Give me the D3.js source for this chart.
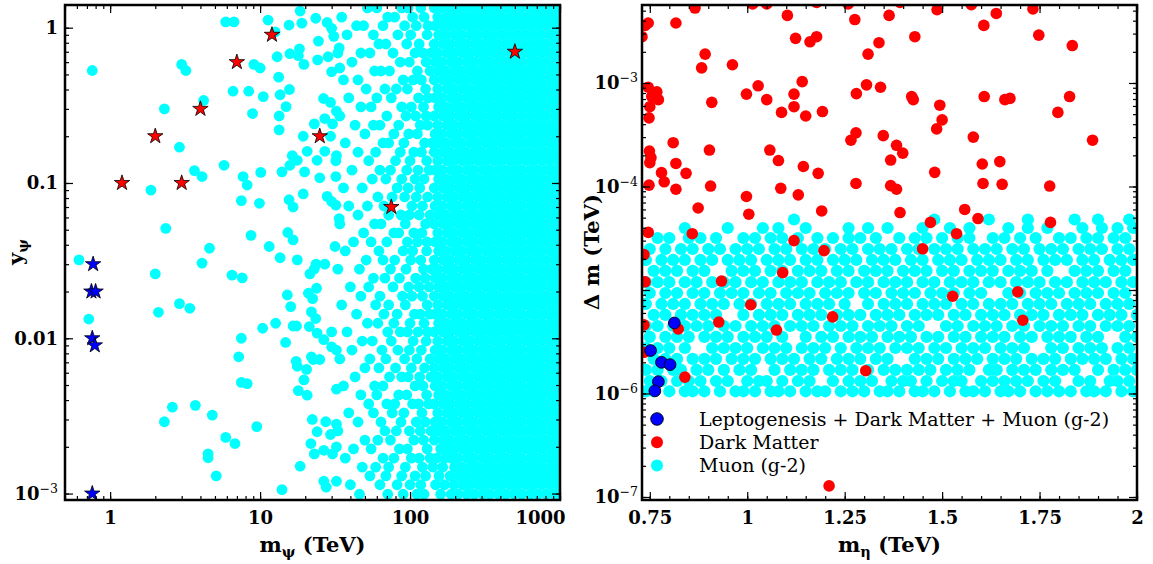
<!DOCTYPE html>
<html>
<head>
<meta charset="utf-8">
<script src="https://cdn.jsdelivr.net/npm/d3@7"></script>
<style>
  body { margin: 0; background: #fff; }
  svg text { font-family: "DejaVu Serif", serif; }
</style>
</head>
<body>
<svg id="chart" width="1153" height="564"></svg>
<script>
// ---------------- data ----------------

// left panel: m_psi (TeV) vs y_psi, scattered Muon (g-2) points
const leftMuonSparse = [
  [0.76,0.53],[5.9,1.09],[6.7,1.09],[11.3,1.12],[12.6,0.94],[18.5,1.28],[15.6,1.04],[19,1.07],[23.5,1.15],[28,1.08],[30,0.99],[31,0.88],
  [3.0,0.58],[3.2,0.53],[9.1,0.58],[10,0.55],[13,0.65],[15.8,0.68],[18.3,0.73],[18,0.66],[19.6,0.58],
  [24.5,0.82],[24.2,0.62],[28.4,0.65],[33.7,0.74],[30,0.52],[34,0.55],[13.3,0.48],
  [6.6,0.39],[8.4,0.39],[10.5,0.36],[13.6,0.37],[15.7,0.40],[14.9,0.31],[13.4,0.27],[13.4,0.22],[8.9,0.28],[4.2,0.34],[2.3,0.30],
  [26.5,0.35],[29.5,0.33],[32.3,0.29],[27,0.26],[30.4,0.24],[23,0.24],[19.4,0.2],[29.5,0.2],[27,0.16],[24,0.14],[32.3,0.15],
  [20.6,0.16],[16.4,0.15],[17.7,0.14],[15.8,0.13],[2.9,0.17],[5.75,0.13],[3.65,0.12],[4.1,0.11],[1.87,0.09],[7.7,0.11],[8.2,0.097],[10.1,0.117],
  [14,0.118],[19.8,0.118],[25,0.108],[32,0.11],[7.5,0.077],[9.9,0.074],[15.6,0.078],[16.6,0.07],[19.4,0.085],[28,0.082],[30,0.076],[32,0.072],[33.7,0.059],
  [2.35,0.051],[8.7,0.046],[15.3,0.048],[16.6,0.043],[11.5,0.039],[4.6,0.038],[0.62,0.032],[13.6,0.033],[17.7,0.032],[31.6,0.039],
  [0.72,0.0133],[2.0,0.026],[2.1,0.0147],[2.9,0.0167],[3.4,0.0156],[4.1,0.0305],[6.5,0.0255],[7.6,0.0245],[21.5,0.026],[23.6,0.03],[27,0.03],[23,0.028],
  [15.2,0.019],[16,0.016],[21,0.0195],[22.4,0.018],[23.8,0.021],[22,0.0148],[23.5,0.0134],[21.3,0.0119],[24,0.0108],[26.6,0.0098],[30,0.011],[30,0.0088],[32.3,0.0084],
  [10.4,0.0116],[12.7,0.0125],[16.6,0.012],[17.5,0.012],[7.5,0.01],[7.2,0.0076],[14.8,0.0094],[17.4,0.0071],[17.7,0.0066],[20.4,0.0063],[19.6,0.0054],[22,0.0076],[22.6,0.0073],[25,0.0073],
  [7.5,0.0052],[8.2,0.0051],[18,0.0046],[20.6,0.0043],[32.3,0.0047],[2.6,0.0036],[3.7,0.0037],[4.8,0.0032],[2.3,0.0029],[9.5,0.0027],[5.9,0.0023],[6.8,0.0021],[4.5,0.0018],[4.5,0.0017],[5.1,0.0013],[18.5,0.0015],
  [22.3,0.003],[27.4,0.0029],[24,0.0025],[29.5,0.0024],[32.3,0.0028],[21.8,0.0021],[23,0.0018],[26.6,0.0019],[30.4,0.0018],[32.3,0.002],[14,0.00106],[26.6,0.0012],[27.6,0.0011],[32.3,0.0012]
];

// left panel: the crowded part, one y value per row and the m_psi values along it
const leftMuonRowY = [1.34,1.17,1.03,0.90,0.785,0.687,0.601,0.526,0.461,0.403,0.353,0.309,0.270,0.236,0.207,0.181,0.158,0.139,0.121,0.106,
  0.093,0.0813,0.0711,0.0622,0.0545,0.0477,0.0417,0.0365,0.0319,0.0279,0.0244,0.0214,0.0187,0.0164,0.0143,0.0125,0.0110,0.0096,0.0084,0.00736,
  0.00644,0.00564,0.00493,0.00432,0.00378,0.00331,0.00289,0.00253,0.00221,0.00194,0.00169,0.00148,0.00130,0.00114,0.00099];
const leftMuonRowX = [
  "52 60 88 97 118 145 164 185 209 237 268 302 341 385 436 492 556 631 712 805 910 990",
  "35 71 79 104 124 153 174 196 222 251 284 321 362 409 464 523 592 668 756 858 970",
  "44 49 66 92 110 132 147 166 186 211 240 270 305 345 388 440 495 560 635 716 810 915 995",
  "38 57 83 101 130 155 174 198 222 253 284 323 362 411 464 525 592 670 756 860 972",
  "62 69 95 115 145 166 185 211 237 270 302 343 385 438 492 558 631 714 805 912 995",
  "33 47 54 77 108 122 138 153 176 196 224 251 286 321 364 409 466 523 594 668 758 858 970",
  "41 86 99 128 147 164 188 209 239 268 305 341 388 436 495 556 635 712 808 910 995",
  "58 64 73 112 136 155 174 198 222 253 284 323 362 411 464 525 592 670 756 860 970",
  "36 45 90 105 119 145 166 185 211 237 270 302 343 385 438 492 558 631 714 805 912 995",
  "51 68 81 96 127 153 176 196 224 251 286 321 364 409 466 523 594 668 758 858 970",
  "39 60 75 114 132 147 164 188 209 239 268 305 341 388 436 495 556 635 712 808 910 995",
  "47 55 88 102 123 155 174 198 222 253 284 323 362 411 464 525 592 670 756 860 970",
  "34 70 94 109 128 145 166 185 211 237 270 302 343 385 438 492 558 631 714 805 912 995",
  "43 57 63 84 117 131 153 176 196 224 251 286 321 364 409 466 523 594 668 758 858 970",
  "50 78 98 112 147 164 188 209 239 268 305 341 388 436 495 556 635 712 808 910 995",
  "37 66 72 91 125 140 155 174 198 222 253 284 323 362 411 464 525 592 670 756 860 970",
  "45 59 86 106 119 145 166 185 211 237 270 302 343 385 438 492 558 631 714 805 912 995",
  "32 53 80 100 129 153 176 196 224 251 286 321 364 409 466 523 594 668 758 858 970",
  "41 63 74 95 113 134 147 164 188 209 239 268 305 341 388 436 495 556 635 712 808 910 995",
  "56 69 88 108 124 155 174 198 222 253 284 323 362 411 464 525 592 670 756 860 970",
  "36 48 82 97 116 145 166 185 211 237 270 302 343 385 438 492 558 631 714 805 912 995",
  "61 76 92 110 131 153 176 196 224 251 286 321 364 409 466 523 594 668 758 858 970",
  "39 52 67 103 121 147 164 188 209 239 268 305 341 388 436 495 556 635 712 808 910 995",
  "45 72 87 99 115 136 155 174 198 222 253 284 323 362 411 464 525 592 670 756 860 970",
  "34 58 64 93 127 145 166 185 211 237 270 302 343 385 438 492 558 631 714 805 912 995",
  "49 78 84 106 120 153 176 196 224 251 286 321 364 409 466 523 594 668 758 858 970",
  "42 55 70 96 112 130 147 164 188 209 239 268 305 341 388 436 495 556 635 712 808 910 995",
  "37 62 90 104 129 155 174 198 222 253 284 323 362 411 464 525 592 670 756 860 970",
  "51 66 79 101 118 145 166 185 211 237 270 302 343 385 438 492 558 631 714 805 912 995",
  "33 46 74 94 123 140 153 176 196 224 251 286 321 364 409 466 523 594 668 758 858 970",
  "57 68 85 109 126 147 164 188 209 239 268 305 341 388 436 495 556 635 712 808 910 995",
  "40 53 77 98 115 134 155 174 198 222 253 284 323 362 411 464 525 592 670 756 860 970",
  "47 63 89 103 121 145 166 185 211 237 270 302 343 385 438 492 558 631 714 805 912 995",
  "35 59 72 93 130 153 176 196 224 251 286 321 364 409 466 523 594 668 758 858 970",
  "44 67 82 107 117 135 147 164 188 209 239 268 305 341 388 436 495 556 635 712 808 910 995",
  "52 61 78 100 124 155 174 198 222 253 284 323 362 411 464 525 592 670 756 860 970",
  "38 71 86 96 113 131 145 166 185 211 237 270 302 343 385 438 492 558 631 714 805 912 995",
  "48 56 75 105 128 153 176 196 224 251 286 321 364 409 466 523 594 668 758 858 970",
  "41 65 83 99 119 147 164 188 209 239 268 305 341 388 436 495 556 635 712 808 910 995",
  "34 54 69 92 111 136 155 174 198 222 253 284 323 362 411 464 525 592 670 756 860 970",
  "50 62 80 102 125 145 166 185 211 237 270 302 343 385 438 492 558 631 714 805 912 995",
  "43 73 88 97 116 138 153 176 196 224 251 286 321 364 409 466 523 594 668 758 858 970",
  "36 58 66 108 122 147 164 188 209 239 268 305 341 388 436 495 556 635 712 808 910 995",
  "47 60 84 95 129 155 174 198 222 253 284 323 362 411 464 525 592 670 756 860 970",
  "53 70 79 104 114 133 145 166 185 211 237 270 302 343 385 438 492 558 631 714 805 912 995",
  "39 57 76 91 120 153 176 196 224 251 286 321 364 409 466 523 594 668 758 858 970",
  "45 64 87 110 126 147 164 188 209 239 268 305 341 388 436 495 556 635 712 808 910 995",
  "33 68 81 99 117 138 155 174 198 222 253 284 323 362 411 464 525 592 670 756 860 970",
  "50 61 74 106 123 145 166 185 211 237 270 302 343 385 438 492 558 631 714 805 912 995",
  "42 55 85 96 130 160 176 196 224 251 286 321 364 409 466 523 594 668 758 858 970",
  "37 66 78 102 115 136 150 170 188 209 239 268 305 341 388 436 495 556 635 712 808 910 995",
  "48 59 72 93 121 142 165 198 222 253 284 323 362 411 464 525 592 670 756 860 970",
  "54 69 88 108 127 156 185 211 237 270 302 343 385 438 492 558 631 714 805 912 995",
  "40 63 82 100 118 148 170 196 224 251 286 321 364 409 466 523 594 668 758 858 970",
  "46 71 90 111 124 160 188 209 239 268 305 341 388 436 495 556 635 712 808 910 995"
];

// left panel: benchmark stars (m_psi, y_psi)
const leftStarsRed = [[1.2,0.1],[2.0,0.2],[3.0,0.1],[4.0,0.3],[7.0,0.6],[12,0.9],[25,0.2],[75,0.07],[500,0.7]];
const leftStarsBlue = [[0.77,0.03],[0.75,0.02],[0.8,0.02],[0.76,0.01],[0.79,0.009],[0.76,0.001]];

// right panel: m_eta (TeV) vs Delta m (TeV), Muon (g-2) band, row by row
const rightMuonRowY = [1.05e-6,1.32e-6,1.69e-6,2.16e-6,2.75e-6,3.52e-6,4.49e-6,5.74e-6,7.33e-6,9.35e-6,1.19e-5,1.53e-5,1.95e-5,2.49e-5,3.18e-5,3.97e-5,4.8e-5];
const rightMuonRowX = [
  "0.74 0.76 0.80 0.84 0.86 0.89 0.93 0.97 0.99 1.02 1.06 1.08 1.11 1.15 1.18 1.20 1.24 1.27 1.30 1.34 1.36 1.39 1.43 1.45 1.48 1.52 1.56 1.58 1.61 1.65 1.67 1.70 1.74 1.77 1.80 1.83 1.87 1.89 1.92 1.96 1.99",
  "0.75 0.78 0.82 0.85 0.88 0.92 0.95 1.00 1.03 1.05 1.09 1.13 1.16 1.22 1.26 1.29 1.32 1.37 1.40 1.42 1.46 1.50 1.53 1.55 1.60 1.63 1.66 1.69 1.72 1.76 1.79 1.85 1.88 1.93 1.95 1.98",
  "0.74 0.77 0.81 0.83 0.87 0.90 0.94 0.98 1.01 1.07 1.11 1.14 1.17 1.21 1.24 1.27 1.31 1.35 1.38 1.41 1.44 1.47 1.51 1.54 1.57 1.62 1.64 1.68 1.71 1.74 1.78 1.81 1.84 1.90 1.94 1.97 2.00",
  "0.76 0.79 0.82 0.86 0.89 0.92 0.96 0.99 1.02 1.06 1.09 1.12 1.16 1.19 1.23 1.26 1.29 1.33 1.36 1.43 1.46 1.49 1.53 1.56 1.59 1.63 1.66 1.69 1.73 1.76 1.79 1.83 1.86 1.89 1.92 1.96 1.99",
  "0.74 0.77 0.80 0.84 0.91 0.94 0.97 1.00 1.04 1.07 1.10 1.14 1.17 1.20 1.24 1.28 1.31 1.34 1.38 1.41 1.44 1.48 1.51 1.55 1.58 1.61 1.65 1.68 1.71 1.78 1.81 1.85 1.88 1.91 1.95 1.98",
  "0.75 0.79 0.82 0.85 0.89 0.92 0.95 0.99 1.02 1.05 1.09 1.15 1.19 1.22 1.26 1.29 1.32 1.36 1.39 1.42 1.46 1.49 1.53 1.56 1.60 1.63 1.66 1.70 1.73 1.77 1.80 1.83 1.87 1.90 1.97 2.00",
  "0.74 0.77 0.81 0.84 0.87 0.90 0.94 0.97 1.01 1.04 1.07 1.11 1.14 1.17 1.21 1.24 1.27 1.31 1.34 1.37 1.41 1.44 1.51 1.54 1.58 1.61 1.64 1.68 1.71 1.75 1.78 1.81 1.85 1.88 1.92 1.95 1.98",
  "0.76 0.79 0.83 0.86 0.89 0.92 0.99 1.03 1.06 1.09 1.13 1.16 1.19 1.23 1.26 1.29 1.33 1.36 1.39 1.43 1.46 1.49 1.53 1.56 1.60 1.63 1.66 1.70 1.73 1.76 1.80 1.83 1.86 1.90 1.93 1.96 2.00",
  "0.74 0.78 0.81 0.84 0.88 0.91 0.94 0.98 1.01 1.05 1.08 1.11 1.15 1.18 1.21 1.25 1.31 1.35 1.38 1.41 1.45 1.48 1.51 1.55 1.58 1.62 1.65 1.68 1.72 1.75 1.78 1.82 1.85 1.88 1.92 1.95 1.98",
  "0.75 0.79 0.82 0.86 0.89 0.93 0.96 0.99 1.03 1.06 1.10 1.13 1.16 1.20 1.23 1.26 1.30 1.33 1.37 1.40 1.43 1.47 1.50 1.53 1.57 1.60 1.67 1.70 1.74 1.77 1.80 1.84 1.87 1.90 1.94 1.97",
  "0.74 0.77 0.80 0.84 0.87 0.91 0.94 0.97 1.01 1.04 1.08 1.11 1.14 1.18 1.21 1.24 1.28 1.31 1.35 1.38 1.41 1.45 1.48 1.52 1.55 1.58 1.62 1.65 1.69 1.72 1.75 1.79 1.82 1.86 1.89 1.92 1.96 1.99",
  "0.76 0.79 0.82 0.86 0.89 0.96 0.99 1.02 1.06 1.09 1.13 1.16 1.19 1.23 1.26 1.30 1.33 1.36 1.40 1.43 1.46 1.50 1.53 1.57 1.60 1.63 1.67 1.70 1.73 1.77 1.84 1.87 1.90 1.94 1.97",
  "0.74 0.78 0.81 0.84 0.88 0.91 0.95 0.98 1.01 1.05 1.08 1.11 1.15 1.18 1.22 1.25 1.28 1.32 1.35 1.38 1.42 1.45 1.49 1.52 1.55 1.59 1.62 1.65 1.69 1.72 1.76 1.79 1.82 1.86 1.89 1.93 1.96 1.99",
  "0.75 0.79 0.83 0.86 0.90 0.93 0.97 1.00 1.03 1.07 1.10 1.14 1.17 1.20 1.24 1.27 1.31 1.34 1.37 1.41 1.44 1.48 1.51 1.54 1.58 1.61 1.64 1.68 1.71 1.75 1.78 1.81 1.85 1.88 1.91 1.95 1.98",
  "0.77 0.80 0.85 0.88 0.92 0.99 1.02 1.06 1.09 1.13 1.18 1.22 1.26 1.29 1.33 1.39 1.43 1.46 1.50 1.54 1.57 1.63 1.66 1.70 1.74 1.80 1.83 1.87 1.90 1.94 1.97",
  "0.84 0.95 1.04 1.08 1.15 1.26 1.31 1.36 1.45 1.52 1.57 1.67 1.72 1.77 1.86 1.91 1.95 1.99",
  "1.12 1.48 1.62 1.72 1.84 1.90 1.98"
];

// right panel: Dark Matter points (m_eta, Delta m)
const rightDarkMatter = [
  [0.866,5.3e-3],[0.746,3.8e-3],[0.738,3.6e-3],[0.817,3.8e-3],[1.103,4.5e-3],[1.014,5.8e-3],[1.05,5.8e-3],[1.178,6.0e-3],[1.259,5.8e-3],[1.276,4.1e-3],
  [1.124,2.7e-3],[1.161,2.5e-3],[1.178,2.8e-3],[0.892,1.9e-3],[0.883,1.4e-3],[0.962,1.5e-3],[1.31,1.9e-3],[0.73,2.8e-3],
  [0.746,9.1e-4],[0.768,8.2e-4],[0.755,7.4e-4],[0.772,6.9e-4],[0.75,5.9e-4],[0.748,4.6e-4],[0.998,7.8e-4],[1.028,9.4e-4],[1.05,6.9e-4],[0.909,6.5e-4],
  [1.088,5.2e-4],[1.12,7.8e-4],[1.12,5.9e-4],[1.141,1.03e-3],[1.15,4.8e-4],[1.193,5.3e-4],[1.28,7.9e-4],[1.306,9.6e-4],
  [1.279,3.3e-4],[1.266,2.8e-4],[0.81,2.65e-4],[0.903,2.25e-4],[1.058,2.25e-4],[1.08,1.78e-4],[0.749,2.2e-4],[0.753,1.9e-4],[0.75,1.7e-4],[0.817,1.67e-4],
  [0.78,1.36e-4],[0.787,1.11e-4],[0.843,1.34e-4],[1.144,1.56e-4],[1.182,1.34e-4],[0.748,1.03e-4],[0.817,9.4e-5],[0.906,1.01e-4],[1.086,9.6e-5],[1.131,8.3e-5],
  [1.279,1.07e-4],[0.998,8e-5],[1.004,5.4e-5],[0.874,6.2e-5],[1.191,5.8e-5],[0.746,3.6e-5],[0.859,3.5e-5],[1.12,3e-5],[1.197,2.4e-5],[0.735,2.2e-5],
  [1.091,1.47e-5],[0.934,1.22e-5],[0.738,1.2e-5],[1.009,7.2e-6],[0.927,4.9e-6],[0.735,4.6e-6],[0.823,4.2e-6],[1.075,4.1e-6],[1.219,5.5e-6],[1.304,1.66e-6],
  [0.84,1.44e-6],[0.735,2.5e-6],[1.21,1.28e-7],
  [1.364,4.5e-3],[1.487,5.1e-3],[1.575,5.7e-3],[1.639,4.7e-3],[1.733,5.2e-3],[1.392,6e-3],[1.607,3.6e-3],[1.43,2.8e-3],[1.748,2.9e-3],[1.834,2.3e-3],[1.338,2.45e-3],
  [1.342,9.1e-4],[1.422,7.4e-4],[1.426,6.9e-4],[1.494,6.1e-4],[1.608,7.4e-4],[1.661,6.9e-4],[1.674,7.1e-4],[1.827,7.4e-4],[1.797,5.2e-4],[1.5,4.4e-4],
  [1.486,3.6e-4],[1.349,3.1e-4],[1.58,3.0e-4],[1.886,2.8e-4],[1.383,2.5e-4],[1.399,2.1e-4],[1.368,1.8e-4],[1.603,1.65e-4],[1.648,1.74e-4],[1.481,1.37e-4],
  [1.368,1.02e-4],[1.383,9.4e-5],[1.605,1.07e-4],[1.654,1.05e-4],[1.776,1.01e-4],[1.392,5.6e-5],[1.558,6.0e-5],[1.592,4.9e-5],[1.47,4.5e-5],[1.778,4.5e-5],
  [1.537,3.5e-5],[1.45,2.5e-5],[1.527,8.7e-6],[1.694,9.6e-6],[1.707,5.1e-6]
];

// right panel: points passing all three (m_eta, Delta m)
const rightAllThree = [[0.813,4.8e-6],[0.752,2.6e-6],[0.78,2.0e-6],[0.802,1.9e-6],[0.772,1.3e-6],[0.763,1.06e-6]];

// ticks and labels
const leftXTicks = [1, 10, 100, 1000];
const leftXLabels = ["1", "10", "100", "1000"];
const leftYTicks = [0.001, 0.01, 0.1, 1];
const leftYLabels = ["10^\u22123", "0.01", "0.1", "1"];
const rightXTicks = [0.75, 1, 1.25, 1.5, 1.75, 2];
const rightXLabels = ["0.75", "1", "1.25", "1.5", "1.75", "2"];
const rightYTicks = [1e-7, 1e-6, 1e-5, 1e-4, 1e-3];
const rightYLabels = ["10^\u22127", "10^\u22126", "", "10^\u22124", "10^\u22123"];
const legendLabels = ["Leptogenesis + Dark Matter + Muon (g-2)", "Dark Matter", "Muon (g-2)"];

// ---------------- drawing ----------------
const svg = d3.select("#chart");

const xL = d3.scaleLog().domain([0.5, 1000]).range([65, 560]);
const yL = d3.scaleLog().domain([9.09e-4, 1.4]).range([500, 5]);
const xR = d3.scaleLinear().domain([0.73, 2]).range([642, 1137]);
const yR = d3.scaleLog().domain([9.35e-8, 5.67e-3]).range([500, 5]);

function rowsToPoints(ys, xs) {
  const pts = [];
  ys.forEach((y, i) => xs[i].trim().split(/\s+/).forEach(x => pts.push([+x, y])));
  return pts;
}

const defs = svg.append("defs");
defs.append("clipPath").attr("id", "clipL").append("rect")
  .attr("x", 65).attr("y", 5).attr("width", 495).attr("height", 495);
defs.append("clipPath").attr("id", "clipR").append("rect")
  .attr("x", 642).attr("y", 5).attr("width", 495).attr("height", 495);

// left panel points
const gL = svg.append("g").attr("clip-path", "url(#clipL)");
gL.selectAll("circle.muon")
  .data(leftMuonSparse.concat(rowsToPoints(leftMuonRowY, leftMuonRowX)))
  .join("circle")
  .attr("class", "muon")
  .attr("cx", d => xL(d[0]))
  .attr("cy", d => yL(d[1]))
  .attr("r", 5.4)
  .attr("fill", "#00ffff");

const star = d3.symbol().type(d3.symbolStar).size(74);
gL.selectAll("path.red")
  .data(leftStarsRed)
  .join("path")
  .attr("class", "red")
  .attr("transform", d => `translate(${xL(d[0])},${yL(d[1])})`)
  .attr("d", star)
  .attr("fill", "#ff0000")
  .attr("stroke", "#000")
  .attr("stroke-width", 0.8);
gL.selectAll("path.blue")
  .data(leftStarsBlue)
  .join("path")
  .attr("class", "blue")
  .attr("transform", d => `translate(${xL(d[0])},${yL(d[1])})`)
  .attr("d", star)
  .attr("fill", "#0000ff")
  .attr("stroke", "#000")
  .attr("stroke-width", 0.8);

// right panel points: cyan first, then red, then blue on top
const gR = svg.append("g").attr("clip-path", "url(#clipR)");
gR.selectAll("circle.muon")
  .data(rowsToPoints(rightMuonRowY, rightMuonRowX))
  .join("circle")
  .attr("class", "muon")
  .attr("cx", d => xR(d[0]))
  .attr("cy", d => yR(d[1]))
  .attr("r", 6.1)
  .attr("fill", "#00ffff");
gR.selectAll("circle.dm")
  .data(rightDarkMatter)
  .join("circle")
  .attr("class", "dm")
  .attr("cx", d => xR(d[0]))
  .attr("cy", d => yR(d[1]))
  .attr("r", 5.8)
  .attr("fill", "#ff0000");
gR.selectAll("circle.all")
  .data(rightAllThree)
  .join("circle")
  .attr("class", "all")
  .attr("cx", d => xR(d[0]))
  .attr("cy", d => yR(d[1]))
  .attr("r", 5.9)
  .attr("fill", "#0000ff")
  .attr("stroke", "#000")
  .attr("stroke-width", 0.9);

// axes: ticks point inwards on all four sides, labels only bottom / left
function putLabel(sel, txt) {
  sel.text(null);
  const parts = txt.split("^");
  sel.append("tspan").text(parts[0]);
  if (parts.length > 1) {
    sel.append("tspan")
      .attr("dy", -7)
      .attr("font-size", 12.5)
      .attr("font-weight", "normal")
      .text(parts[1]);
  }
}

function drawAxes(x, y, box, o) {
  const [x0, y0, x1, y1] = box;
  const g = svg.append("g");
  const add = (axis, tx, ty) => g.append("g")
    .attr("transform", `translate(${tx},${ty})`)
    .call(axis)
    .call(a => a.select(".domain").remove())
    .call(a => a.selectAll(".tick line").attr("stroke-width", 1.2))
    .attr("font-family", "DejaVu Serif")
    .attr("font-size", 18)
    .attr("font-weight", "bold");

  add(d3.axisBottom(x).tickValues(o.xMinor).tickSize(-4).tickFormat(""), 0, y1);
  add(d3.axisTop(x).tickValues(o.xMinor).tickSize(-4).tickFormat(""), 0, y0);
  add(d3.axisLeft(y).tickValues(o.yMinor).tickSize(-4).tickFormat(""), x0, 0);
  add(d3.axisRight(y).tickValues(o.yMinor).tickSize(-4).tickFormat(""), x1, 0);

  const bottom = add(d3.axisBottom(x).tickValues(o.xTicks).tickSize(-8).tickPadding(11)
    .tickFormat(d => o.xLabels[o.xTicks.indexOf(d)]), 0, y1);
  add(d3.axisTop(x).tickValues(o.xTicks).tickSize(-8).tickFormat(""), 0, y0);
  const left = add(d3.axisLeft(y).tickValues(o.yTicks).tickSize(-8).tickPadding(o.yPad)
    .tickFormat(d => o.yLabels[o.yTicks.indexOf(d)]), x0, 0);
  add(d3.axisRight(y).tickValues(o.yTicks).tickSize(-8).tickFormat(""), x1, 0);

  left.selectAll(".tick text").each(function (d) {
    putLabel(d3.select(this), o.yLabels[o.yTicks.indexOf(d)]);
  });

  g.append("rect")
    .attr("x", x0).attr("y", y0)
    .attr("width", x1 - x0).attr("height", y1 - y0)
    .attr("fill", "none")
    .attr("stroke", "#000")
    .attr("stroke-width", 2.5);
  return bottom;
}

const bottomL = drawAxes(xL, yL, [65, 5, 560, 500], {
  xTicks: leftXTicks, xLabels: leftXLabels, xMinor: xL.ticks(),
  yTicks: leftYTicks, yLabels: leftYLabels, yMinor: yL.ticks(), yPad: 7
});
// the 1000 label sits left of its tick in the original
bottomL.selectAll(".tick text").filter(d => d === 1000).attr("dx", -20);

drawAxes(xR, yR, [642, 5, 1137, 500], {
  xTicks: rightXTicks, xLabels: rightXLabels, xMinor: d3.range(0.75, 2.001, 0.05),
  yTicks: rightYTicks, yLabels: rightYLabels, yMinor: yR.ticks(), yPad: 4
});

// axis titles
function title(x, y, rot, main, sub, rest) {
  const t = svg.append("text")
    .attr("transform", `translate(${x},${y}) rotate(${rot})`)
    .attr("text-anchor", "middle")
    .attr("font-size", 21)
    .attr("font-weight", "bold");
  t.append("tspan").text(main);
  if (sub) t.append("tspan").attr("font-size", 14.5).attr("dy", 5).text(sub);
  if (rest) t.append("tspan").attr("dy", sub ? -5 : 0).text(rest);
}
title(312.5, 552, 0, "m", "\u03c8", " (TeV)");
title(889.5, 552, 0, "m", "\u03b7", " (TeV)");
title(23, 252, -90, "y", "\u03c8", "");
title(599, 252, -90, "\u0394 m (TeV)", "", "");

// legend (no frame)
const legendColors = ["#0000ff", "#ff0000", "#00ffff"];
const lg = svg.append("g").attr("transform", "translate(657,419)");
legendLabels.forEach((lab, i) => {
  lg.append("circle")
    .attr("cx", 0).attr("cy", i * 23.3)
    .attr("r", i === 0 ? 6.3 : 6)
    .attr("fill", legendColors[i])
    .attr("stroke", i === 0 ? "#000" : "none")
    .attr("stroke-width", 0.9);
  lg.append("text")
    .attr("x", 42).attr("y", i * 23.3 + 6.5)
    .attr("font-size", 19)
    .text(lab);
});
</script>
</body>
</html>
